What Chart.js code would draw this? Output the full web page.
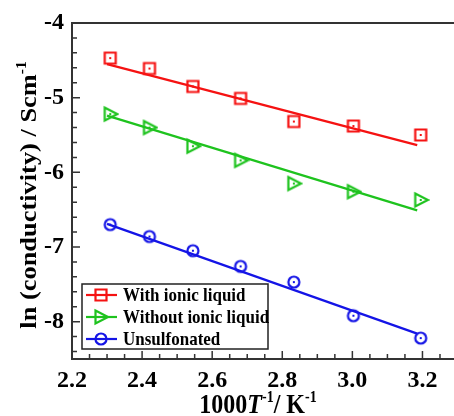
<!DOCTYPE html>
<html>
<head>
<meta charset="utf-8">
<script src="https://cdn.jsdelivr.net/npm/chart.js@4.4.1/dist/chart.umd.min.js"></script>
<style>
  html, body { margin: 0; padding: 0; background: #fff; }
</style>
</head>
<body>
<canvas id="graphique" width="454" height="416"></canvas>
<script>
// Données (1000/T en K^-1, ln conductivité en S/cm)
const xValues = [2.309, 2.421, 2.545, 2.681, 2.833, 3.003, 3.195];
const withIonic = [-4.47, -4.61, -4.85, -5.01, -5.32, -5.38, -5.50];
const withoutIonic = [-5.22, -5.40, -5.65, -5.84, -6.15, -6.26, -6.37];
const unsulfonated = [-6.70, -6.86, -7.05, -7.26, -7.47, -7.92, -8.22];

// Droites d'ajustement (extrémités)
const fitX = [2.30, 3.185];
const fitWithIonic = [-4.55, -5.635];
const fitWithoutIonic = [-5.24, -6.51];
const fitUnsulfonated = [-6.69, -8.16];

const seriesLabels = ["With ionic liquid", "Without ionic liquid", "Unsulfonated"];
const seriesColors = ["#f51212", "#1ec31e", "#1414e6"];
const markerKinds = ["square", "triangle", "circle"];

const xTicks = [2.2, 2.4, 2.6, 2.8, 3.0, 3.2];
const yTicks = [-4, -5, -6, -7, -8];

const FONT = "'Liberation Serif', 'Times New Roman', serif";

// Dessin d'un marqueur (avec ou sans trait pour la légende)
function dessinerMarqueur(ctx, kind, color, cx, cy) {
  ctx.strokeStyle = color;
  ctx.fillStyle = color;
  ctx.lineWidth = 2.2;
  ctx.beginPath();
  if (kind === "square") {
    ctx.rect(cx - 5.5, cy - 5.5, 11, 11);
  } else if (kind === "triangle") {
    ctx.moveTo(cx - 5.5, cy - 6.5);
    ctx.lineTo(cx + 7, cy);
    ctx.lineTo(cx - 5.5, cy + 6.5);
    ctx.closePath();
  } else {
    ctx.arc(cx, cy, 5.5, 0, Math.PI * 2);
  }
  ctx.stroke();
  ctx.fillRect(cx - 1, cy - 1, 2, 2);
}

function creerMarqueur(kind, color) {
  const c = document.createElement("canvas");
  c.width = 18; c.height = 18;
  dessinerMarqueur(c.getContext("2d"), kind, color, 9, 9);
  return c;
}

const toPoints = (xs, ys) => xs.map((x, i) => ({ x: x, y: ys[i] }));

const pointSeries = [withIonic, withoutIonic, unsulfonated];
const fitSeries = [fitWithIonic, fitWithoutIonic, fitUnsulfonated];

const datasets = [];
for (let i = 0; i < 3; i++) {
  datasets.push({
    label: seriesLabels[i] + " fit",
    data: toPoints(fitX, fitSeries[i]),
    showLine: true,
    borderColor: seriesColors[i],
    borderWidth: 2.2,
    pointRadius: 0,
    fill: false
  });
}
for (let i = 0; i < 3; i++) {
  datasets.push({
    label: seriesLabels[i],
    data: toPoints(xValues, pointSeries[i]),
    showLine: false,
    pointStyle: creerMarqueur(markerKinds[i], seriesColors[i]),
    pointRadius: 6
  });
}

// Texte avec exposants
function texteRiche(ctx, parts, x, y) {
  let total = 0;
  for (const p of parts) {
    ctx.font = p.font;
    p.w = ctx.measureText(p.t).width;
    total += p.w;
  }
  let cx = x - total / 2;
  for (const p of parts) {
    ctx.font = p.font;
    ctx.fillText(p.t, cx, y - (p.up || 0));
    cx += p.w;
  }
}

const cadrePlugin = {
  id: "cadre",
  afterDraw(chart) {
    const { ctx, chartArea: a, scales } = chart;
    const x = scales.x, y = scales.y;
    const W = chart.width;
    ctx.save();
    ctx.strokeStyle = "#333";
    ctx.lineWidth = 2;
    ctx.beginPath();
    ctx.moveTo(W, a.top);
    ctx.lineTo(a.left, a.top);
    ctx.lineTo(a.left, a.bottom);
    ctx.lineTo(W, a.bottom);
    ctx.stroke();

    // graduations vers l'intérieur
    ctx.lineWidth = 1.5;
    ctx.beginPath();
    for (let k = 0; k <= 22; k++) {
      const v = 2.2 + k * 0.05;
      const px = x.getPixelForValue(v);
      if (px > W) break;
      const len = (k % 4 === 0) ? 8 : 5;
      ctx.moveTo(px, a.bottom);
      ctx.lineTo(px, a.bottom - len);
    }
    for (let k = 0; k <= 22; k++) {
      const v = -8.4 + k * 0.2;
      if (v > -4.01) break;
      const py = y.getPixelForValue(v);
      const major = Math.abs(v - Math.round(v)) < 0.01;
      ctx.moveTo(a.left, py);
      ctx.lineTo(a.left + (major ? 8 : 5), py);
    }
    ctx.stroke();

    // titres des axes (légèrement étirés comme sur l'original)
    ctx.fillStyle = "#000";
    ctx.textBaseline = "alphabetic";
    const big = "bold 24px " + FONT;
    const sup = "bold 14px " + FONT;
    ctx.save();
    ctx.translate(258, 413);
    ctx.scale(1, 1.12);
    texteRiche(ctx, [
      { t: "1000", font: big },
      { t: "T", font: "italic bold 24px " + FONT },
      { t: "-1", font: sup, up: 10 },
      { t: "/ K", font: big },
      { t: "-1", font: sup, up: 10 }
    ], 0, 0);
    ctx.restore();

    ctx.save();
    ctx.translate(36, 195);
    ctx.rotate(-Math.PI / 2);
    ctx.scale(1.1, 1);
    texteRiche(ctx, [
      { t: "ln (conductivity) / Scm", font: big },
      { t: "-1", font: sup, up: 10 }
    ], 0, 0);
    ctx.restore();

    // légende
    const bx = 82, by = 284, bw = 186, bh = 65;
    ctx.fillStyle = "#fff";
    ctx.fillRect(bx, by, bw, bh);
    ctx.strokeStyle = "#222";
    ctx.lineWidth = 1.5;
    ctx.strokeRect(bx, by, bw, bh);
    for (let i = 0; i < 3; i++) {
      const ry = by + 11 + i * 22;
      ctx.strokeStyle = seriesColors[i];
      ctx.lineWidth = 2.2;
      ctx.beginPath();
      ctx.moveTo(bx + 4, ry);
      ctx.lineTo(bx + 35, ry);
      ctx.stroke();
      dessinerMarqueur(ctx, markerKinds[i], seriesColors[i], bx + 19, ry);
      ctx.save();
      ctx.fillStyle = "#000";
      ctx.font = "bold 17px " + FONT;
      ctx.textBaseline = "middle";
      ctx.translate(bx + 41, ry + 1);
      ctx.scale(1, 1.12);
      ctx.fillText(seriesLabels[i], 0, 0);
      ctx.restore();
    }
    ctx.restore();
  }
};

new Chart(document.getElementById("graphique"), {
  type: "scatter",
  data: { datasets: datasets },
  plugins: [cadrePlugin],
  options: {
    responsive: false,
    animation: false,
    layout: { padding: { top: 23, right: 0, left: 0, bottom: 0 } },
    plugins: { legend: { display: false }, tooltip: { enabled: false } },
    scales: {
      x: {
        type: "linear",
        min: 2.2,
        max: 3.27,
        grid: { display: false, drawTicks: false },
        border: { display: false },
        afterBuildTicks: (s) => { s.ticks = xTicks.map(v => ({ value: v })); },
        afterFit: (s) => { s.height = 57; },
        ticks: {
          padding: 7,
          color: "#000",
          font: { family: FONT, size: 24, weight: "bold" },
          callback: (v) => Number(v).toFixed(1)
        }
      },
      y: {
        type: "linear",
        min: -8.5,
        max: -4,
        grid: { display: false, drawTicks: false },
        border: { display: false },
        afterBuildTicks: (s) => { s.ticks = yTicks.map(v => ({ value: v })); },
        afterFit: (s) => { s.width = 72; },
        ticks: {
          padding: 8,
          color: "#000",
          font: { family: FONT, size: 24, weight: "bold" },
          callback: (v) => String(v)
        }
      }
    }
  }
});
</script>
</body>
</html>
